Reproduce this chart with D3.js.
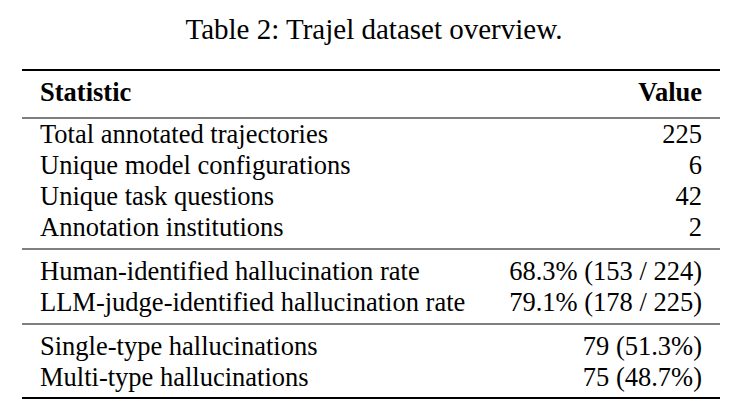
<!DOCTYPE html>
<html><head><meta charset="utf-8">
<script src="https://cdn.jsdelivr.net/npm/d3@7"></script>
<style>body{margin:0;background:#fff}text{font-family:"Liberation Serif","DejaVu Serif",serif;fill:#000}</style>
</head><body><svg id="t" width="738" height="418"></svg>
<script>
// Table contents
const statistics = [
  'Total annotated trajectories', 'Unique model configurations', 'Unique task questions', 'Annotation institutions',
  'Human-identified hallucination rate', 'LLM-judge-identified hallucination rate',
  'Single-type hallucinations', 'Multi-type hallucinations'
];
const values = ['225', '6', '42', '2', '68.3% (153 / 224)', '79.1% (178 / 225)', '79 (51.3%)', '75 (48.7%)'];
const groups = [0, 0, 0, 0, 1, 1, 2, 2];
const headers = ['Statistic', 'Value'];

const svg = d3.select('#t');
const left = 22, right = 720, fs = 26.5;

svg.append('text').attr('x', 374).attr('y', 39).attr('text-anchor', 'middle')
  .style('font-size', '29px').text('Table 2: Trajel dataset overview.');

// row positions (baselines), with a gap between groups
const rowY = d3.scaleLinear().domain([0, 1]).range([143, 174]);
const baseline = (i) => rowY(i) + groups[i] * 13;

const rule = (y, w) => svg.append('line').attr('x1', left).attr('x2', right)
  .attr('y1', y).attr('y2', y).attr('stroke', '#000').attr('stroke-width', w);

rule(70, 2.2);
svg.append('text').attr('x', 40).attr('y', 101).style('font-size', fs + 'px').style('font-weight', 'bold').text(headers[0]);
svg.append('text').attr('x', 702).attr('y', 101).attr('text-anchor', 'end').style('font-size', fs + 'px').style('font-weight', 'bold').text(headers[1]);
rule(118, 1.2);

const rows = svg.selectAll('g.row').data(statistics).join('g').attr('class', 'row');
rows.append('text').attr('x', 40).attr('y', (d, i) => baseline(i)).style('font-size', fs + 'px').text(d => d);
rows.append('text').attr('x', 702).attr('y', (d, i) => baseline(i)).attr('text-anchor', 'end')
  .style('font-size', fs + 'px').text((d, i) => values[i]);

rule(249, 1.2);
rule(324, 1.2);
rule(398, 2.2);
</script></body></html>
